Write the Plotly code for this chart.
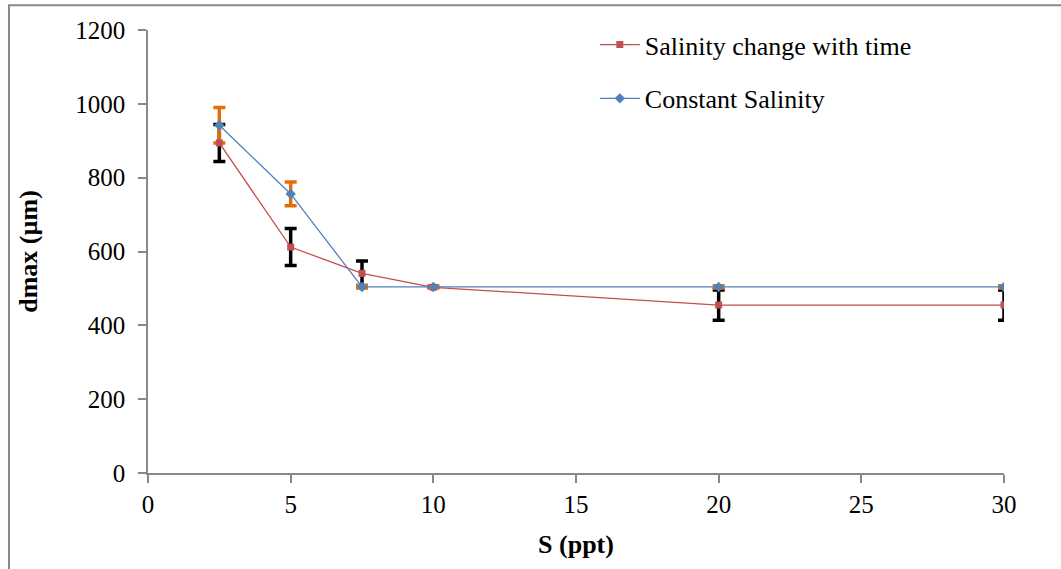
import plotly.graph_objects as go

S = [2.5, 5, 7.5, 10, 20, 30]
dmax_change = [894, 612, 541, 503, 455, 455]
err_change = [50, 50, 33, 0, 41, 41]
dmax_const = [942, 756, 504, 504, 504, 504]
err_const = [48, 32, 3, 3, 3, 3]

x_ticks = [0, 5, 10, 15, 20, 25, 30]
y_ticks = [0, 200, 400, 600, 800, 1000, 1200]

RED = "#C0504D"
BLUE = "#4F81BD"
ORANGE = "#E46C0A"
FONT = "Liberation Serif"

fig = go.Figure()

# error bars (drawn beneath the lines)
fig.add_trace(go.Scatter(
    x=S, y=dmax_change, mode="markers", marker=dict(size=0.1, color="rgba(0,0,0,0)"),
    error_y=dict(type="data", array=err_change, color="black", thickness=3.5, width=6),
    showlegend=False, hoverinfo="skip"))
fig.add_trace(go.Scatter(
    x=S, y=dmax_const, mode="markers", marker=dict(size=0.1, color="rgba(0,0,0,0)"),
    error_y=dict(type="data", array=err_const, color=ORANGE, thickness=3.5, width=6),
    showlegend=False, hoverinfo="skip"))

fig.add_trace(go.Scatter(
    x=S, y=dmax_change, mode="lines+markers", name="Salinity change with time",
    line=dict(color=RED, width=1.3), marker=dict(symbol="square", size=7, color=RED),
    legendgroup="a"))
fig.add_trace(go.Scatter(
    x=S, y=dmax_const, mode="lines+markers", name="Constant Salinity",
    line=dict(color=BLUE, width=1.3), marker=dict(symbol="diamond", size=8, color=BLUE),
    legendgroup="b"))

axis_common = dict(showgrid=False, zeroline=False, showline=True, linecolor="#888888",
                   linewidth=1.5, ticks="outside", ticklen=8, tickcolor="#888888",
                   tickwidth=1.5, tickfont=dict(family=FONT, size=25, color="black"))

fig.update_layout(
    width=1061, height=569,
    margin=dict(l=148, r=57, t=30, b=96),
    paper_bgcolor="white", plot_bgcolor="white",
    font=dict(family=FONT, color="black"),
    xaxis=dict(range=[0, 30], tickvals=x_ticks, ticklabelstandoff=0,
               title=dict(text="<b>S (ppt)</b>", font=dict(family=FONT, size=26), standoff=18),
               **axis_common),
    yaxis=dict(range=[0, 1200], tickvals=y_ticks, ticklabelstandoff=8,
               title=dict(text="<b>dmax (µm)</b>", font=dict(family=FONT, size=26), standoff=30),
               **axis_common),
    legend=dict(x=0.522, y=1.02, xanchor="left", yanchor="top", bgcolor="rgba(0,0,0,0)",
                font=dict(family=FONT, size=26), traceorder="grouped", tracegroupgap=17,
                itemwidth=40),
    shapes=[dict(type="rect", xref="paper", yref="paper", x0=-0.1624, x1=1.2, y0=-0.3, y1=1.056,
                 line=dict(color="#888888", width=2), fillcolor="rgba(0,0,0,0)", layer="below")],
)

fig.write_html("out.html")
